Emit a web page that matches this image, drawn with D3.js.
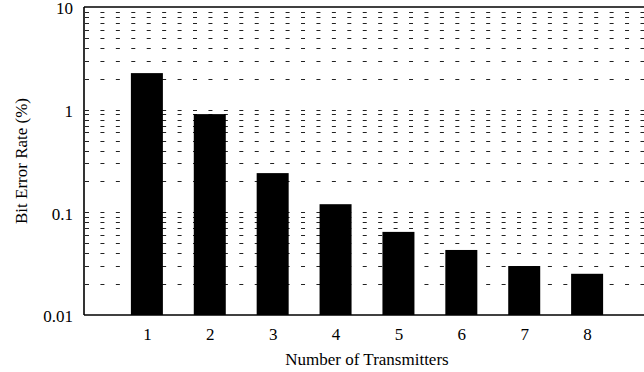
<!DOCTYPE html>
<html>
<head>
<meta charset="utf-8">
<script src="https://cdn.jsdelivr.net/npm/d3@7"></script>
<style>
  body { margin: 0; background: #fff; }
  svg { display: block; font-family: "Liberation Serif", "DejaVu Serif", serif; }
</style>
</head>
<body>
<svg id="chart" width="644" height="372"></svg>
<script>
const transmitters = [1, 2, 3, 4, 5, 6, 7, 8];
const bitErrorRate = [2.27, 0.905, 0.241, 0.120, 0.0645, 0.043, 0.030, 0.0252];
const yTickLabels = ["0.01", "0.1", "1", "10"];

const svg = d3.select('#chart');
const plotLeft = 84, plotTop = 7, plotRight = 650, plotBottom = 315;

const xScale = d3.scaleLinear()
  .domain([0, 9])
  .range([plotLeft, plotRight]);

const yScale = d3.scaleLog()
  .domain([0.01, 10])
  .range([plotBottom, plotTop]);

// dashed grid at every log tick between the borders
const gridTicks = yScale.ticks().filter(t => t > 0.01 && t < 10);
svg.append('g')
  .selectAll('line')
  .data(gridTicks)
  .enter()
  .append('line')
  .attr('x1', plotLeft + 1)
  .attr('x2', plotRight)
  .attr('y1', d => Math.round(yScale(d)) + 0.5)
  .attr('y2', d => Math.round(yScale(d)) + 0.5)
  .attr('stroke', '#222')
  .attr('stroke-width', 1)
  .attr('stroke-dasharray', '4,11.43');

const barWidth = 32;
svg.append('g')
  .selectAll('rect')
  .data(transmitters)
  .enter()
  .append('rect')
  .attr('x', d => xScale(d) - barWidth / 2)
  .attr('width', barWidth)
  .attr('y', (d, i) => yScale(bitErrorRate[i]))
  .attr('height', (d, i) => plotBottom - yScale(bitErrorRate[i]))
  .attr('fill', '#000');

// y axis
const yAxis = d3.axisLeft(yScale)
  .tickValues(yTickLabels.map(Number))
  .tickFormat((d, i) => yTickLabels[i])
  .tickSize(0)
  .tickPadding(11);
const gy = svg.append('g')
  .attr('transform', 'translate(' + plotLeft + ',0)')
  .call(yAxis);
gy.select('.domain').remove();
gy.selectAll('text')
  .attr('dy', '0.4em')
  .attr('font-size', 17)
  .attr('font-family', '"Liberation Serif", serif')
  .attr('fill', '#000');

// x axis labels
const xAxis = d3.axisBottom(xScale)
  .tickValues(transmitters)
  .tickFormat(d3.format('d'))
  .tickSize(0)
  .tickPadding(13);
const gx = svg.append('g')
  .attr('transform', 'translate(0,' + plotBottom + ')')
  .call(xAxis);
gx.select('.domain').remove();
gx.selectAll('text')
  .attr('font-size', 17)
  .attr('font-family', '"Liberation Serif", serif')
  .attr('fill', '#000');

// frame lines
svg.append('line')
  .attr('x1', plotLeft).attr('x2', plotLeft)
  .attr('y1', plotTop).attr('y2', plotBottom)
  .attr('stroke', '#000').attr('stroke-width', 1.6);
svg.append('line')
  .attr('x1', plotLeft).attr('x2', plotRight)
  .attr('y1', plotBottom).attr('y2', plotBottom)
  .attr('stroke', '#000').attr('stroke-width', 1.6);
svg.append('line')
  .attr('x1', plotLeft).attr('x2', plotRight)
  .attr('y1', plotTop).attr('y2', plotTop)
  .attr('stroke', '#000').attr('stroke-width', 1.6);

// axis titles
svg.append('text')
  .attr('x', (plotLeft + plotRight) / 2)
  .attr('y', 365)
  .attr('text-anchor', 'middle')
  .attr('font-size', 17)
  .text('Number of Transmitters');

svg.append('text')
  .attr('transform', 'translate(27,' + (plotTop + plotBottom) / 2 + ') rotate(-90)')
  .attr('text-anchor', 'middle')
  .attr('font-size', 17)
  .text('Bit Error Rate (%)');
</script>
</body>
</html>
